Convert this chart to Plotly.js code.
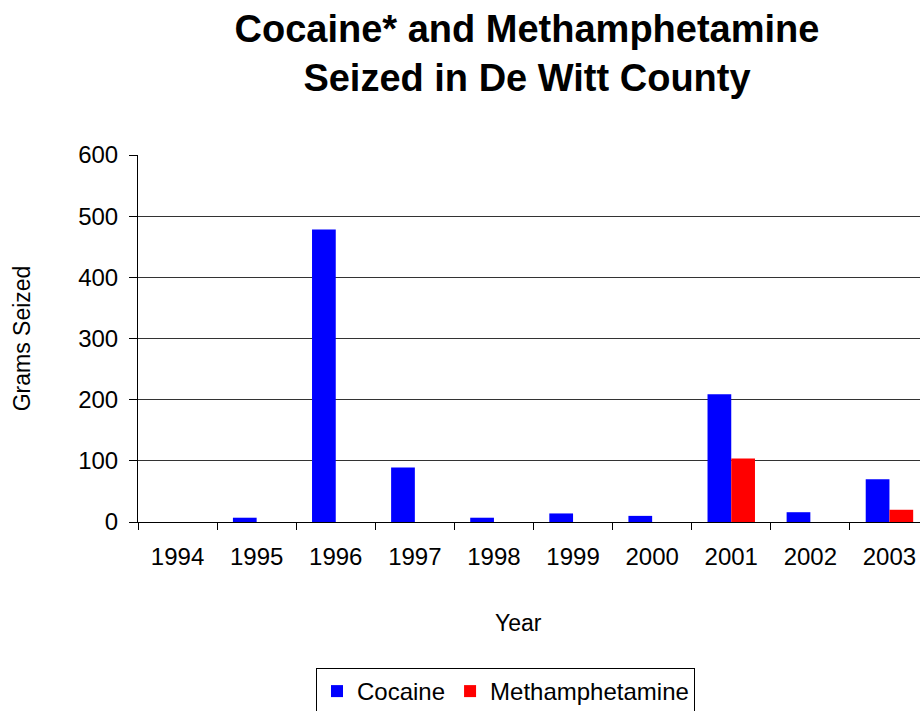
<!DOCTYPE html>
<html>
<head>
<meta charset="utf-8">
<script src="https://cdn.plot.ly/plotly-3.0.1.min.js"></script>
<style>
  html, body { margin: 0; padding: 0; background: #fff; overflow: hidden; }
  #chart { width: 935px; height: 711px; }
</style>
</head>
<body>
<div id="chart"></div>
<script>
// Grams seized per year, De Witt County
const years = ['1994', '1995', '1996', '1997', '1998', '1999', '2000', '2001', '2002', '2003'];
const cocaine = [0, 7, 478, 89, 7, 14, 10, 209, 16, 70];
const methamphetamine = [0, 0, 0, 0, 0, 0, 0, 104, 0, 20];

const FONT = '"Liberation Sans", Arial, sans-serif';
const W = 935, H = 711;

const traces = [
  {
    type: 'bar', name: 'Cocaine', x: years, y: cocaine,
    marker: { color: '#0000FF', line: { width: 0 } }
  },
  {
    type: 'bar', name: 'Methamphetamine', x: years, y: methamphetamine,
    marker: { color: '#FF0000', line: { width: 0 } }
  }
];

const layout = {
  width: W,
  height: H,
  margin: { l: 138, r: 6, t: 155, b: 188.5, pad: 0 },
  paper_bgcolor: '#ffffff',
  plot_bgcolor: '#ffffff',
  font: { family: FONT, size: 24, color: '#000' },
  barmode: 'group',
  bargap: 0.40,
  bargroupgap: 0,
  title: {
    text: 'Cocaine* and Methamphetamine<br>Seized in De Witt County',
    font: { family: FONT, size: 38, color: '#000', weight: 'bold' },
    x: 527 / W, xanchor: 'center', xref: 'container',
    y: 1 - 42 / H, yanchor: 'top', yref: 'container'
  },
  xaxis: {
    type: 'category',
    tickson: 'boundaries',
    ticks: 'outside', ticklen: 7, tickwidth: 1, tickcolor: '#000',
    showline: true, linecolor: '#000', linewidth: 1,
    showgrid: false, zeroline: false,
    ticklabelstandoff: 13,
    tickfont: { family: FONT, size: 24, color: '#000' },
    fixedrange: true
  },
  yaxis: {
    range: [0, 600], dtick: 100,
    ticks: 'outside', ticklen: 8, tickwidth: 1, tickcolor: '#000',
    showline: true, linecolor: '#000', linewidth: 1,
    showgrid: true, gridcolor: '#333333', gridwidth: 1,
    zeroline: false,
    ticklabelstandoff: 6,
    tickfont: { family: FONT, size: 24, color: '#000' },
    title: { text: 'Grams Seized', font: { family: FONT, size: 23, color: '#000' }, standoff: 41 },
    fixedrange: true
  },
  annotations: [
    {
      text: 'Year', showarrow: false,
      xref: 'paper', yref: 'paper',
      x: (518 - 138) / 791, y: (522.5 - 624) / 367.5,
      xanchor: 'center', yanchor: 'middle',
      font: { family: FONT, size: 23, color: '#000' }
    }
  ],
  showlegend: true,
  legend: {
    orientation: 'h',
    xref: 'container', yref: 'container',
    x: 316 / W, xanchor: 'left',
    y: (H - 668) / H, yanchor: 'top',
    bgcolor: '#ffffff', bordercolor: '#000', borderwidth: 1,
    font: { family: FONT, size: 24, color: '#000' },
    itemwidth: 30, traceorder: 'normal'
  }
};

Plotly.newPlot('chart', traces, layout, { staticPlot: true, displayModeBar: false });
</script>
</body>
</html>
